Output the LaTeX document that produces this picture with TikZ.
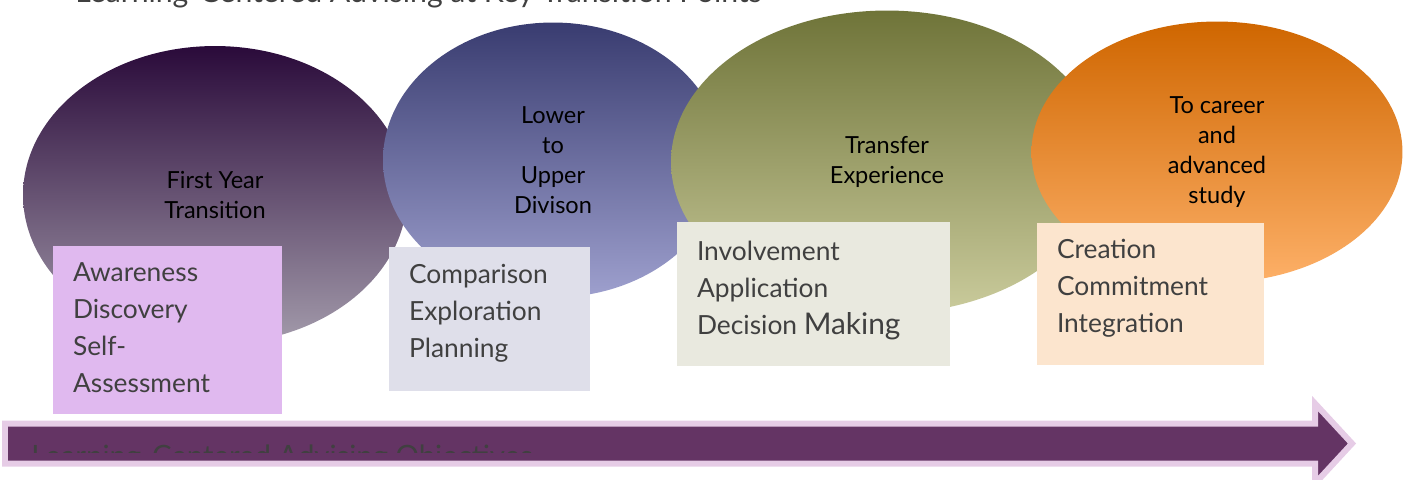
\documentclass[tikz,border=0pt]{standalone}
\usepackage{fontspec}
\setmainfont{Lato}
\usetikzlibrary{shapes.geometric}
\definecolor{plumtop}{HTML}{2A0A3A}
\definecolor{plumbot}{HTML}{A39BAB}
\definecolor{bluetop}{HTML}{393C70}
\definecolor{bluebot}{HTML}{9EA0CE}
\definecolor{olivetop}{HTML}{6F7439}
\definecolor{olivebot}{HTML}{CACB9C}
\definecolor{orangetop}{HTML}{CF6600}
\definecolor{orangebot}{HTML}{FDB068}
\definecolor{boxone}{HTML}{E0B9EF}
\definecolor{boxtwo}{HTML}{DFDFEA}
\definecolor{boxthree}{HTML}{E9E9DF}
\definecolor{boxfour}{HTML}{FCE5CE}
\definecolor{boxtext}{HTML}{404040}
\definecolor{arrowfill}{HTML}{643464}
\definecolor{arrowrim}{HTML}{E6CCE6}
\begin{document}
\begin{tikzpicture}[x=0.02cm,y=-0.02cm,
  stage/.style={ellipse,inner sep=0pt,align=center,text=black,font=\fontsize{13.4}{17}\selectfont},
  stepbox/.style={rectangle,inner sep=0pt},
  steptext/.style={anchor=north west,inner sep=0pt,align=left,text=boxtext,font=\fontsize{15}{21}\selectfont}]
\useasboundingbox (0,0) rectangle (1407,480);
\clip (0,0) rectangle (1407,480);
% title, cut off at the top
\node[anchor=base west,inner sep=0pt,text=boxtext,font=\fontsize{17.2}{20}\selectfont] (title) at (75,3) {Learning-Centered Advising at Key Transition Points};
% transition stages
\node[stage,minimum width=7.68cm,minimum height=5.96cm,top color=plumtop,bottom color=plumbot] (S1) at (215,195) {First Year\\Transition};
\node[stage,minimum width=6.8cm,minimum height=5.5cm,top color=bluetop,bottom color=bluebot] (S2) at (553,160) {Lower\\to\\Upper\\Divison};
\node[stage,minimum width=8.64cm,minimum height=6.06cm,top color=olivetop,bottom color=olivebot] (S3) at (887,162) {Transfer\\Experience};
\node[stage,minimum width=7.42cm,minimum height=5.22cm,top color=orangetop,bottom color=orangebot] (S4) at (1217,152) {To career\\and\\advanced\\study};
% outcome boxes
\node[stepbox,fill=boxone,minimum width=4.58cm,minimum height=3.36cm] (B1) at (167.5,330) {};
\node[stepbox,fill=boxtwo,minimum width=4.02cm,minimum height=2.88cm] (B2) at (489.5,319) {};
\node[stepbox,fill=boxthree,minimum width=5.46cm,minimum height=2.88cm] (B3) at (813.5,294) {};
\node[stepbox,fill=boxfour,minimum width=4.54cm,minimum height=2.84cm] (B4) at (1150.5,294) {};
\node[steptext] (L1) at ([xshift=0.4cm,yshift=-0.34cm]B1.north west) {Awareness\\Discovery\\Self-\\Assessment};
\node[steptext] (L2) at ([xshift=0.4cm,yshift=-0.34cm]B2.north west) {Comparison\\Exploration\\Planning};
\node[steptext] (L3) at ([xshift=0.4cm,yshift=-0.38cm]B3.north west) {Involvement\\Application\\Decision {\fontsize{17}{21}\selectfont Making}};
\node[steptext] (L4) at ([xshift=0.4cm,yshift=-0.32cm]B4.north west) {Creation\\Commitment\\Integration};
% timeline arrow
\draw[fill=arrowfill,draw=arrowrim,line width=0.12cm,line join=miter]
  (5,423.5) -- (1315,423.5) -- (1315,403.5) -- (1352,443.5) -- (1315,483.5) -- (1315,463.5) -- (5,463.5) -- cycle;
\begin{scope}
\clip (0,440) rectangle (1407,452);
\node[anchor=base west,inner sep=0pt,text=boxtext,font=\fontsize{16.7}{20}\selectfont] (objectives) at (31,466) {Learning-Centered Advising Objectives};
\end{scope}
\end{tikzpicture}
\end{document}
